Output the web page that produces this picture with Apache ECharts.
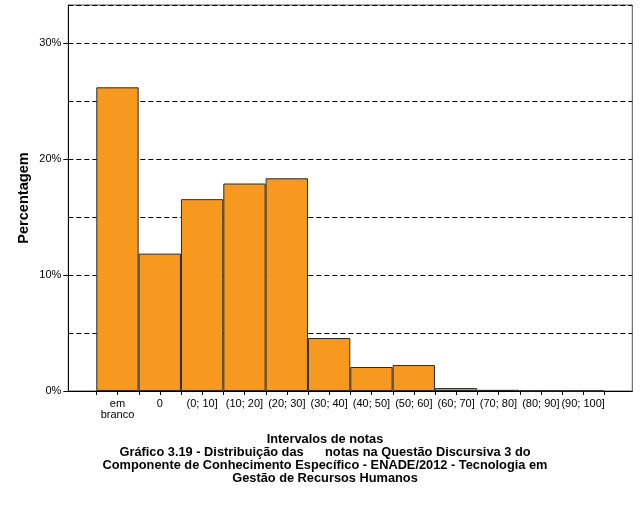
<!DOCTYPE html>
<html><head><meta charset="utf-8">
<script src="https://cdn.jsdelivr.net/npm/echarts@6/dist/echarts.min.js"></script>
<style>html,body{margin:0;padding:0;background:#fff}#c{width:640px;height:505px}</style>
</head><body><div id="c"></div>
<script>
const categories = ['em\nbranco','0','(0; 10]','(10; 20]','(20; 30]','(30; 40]','(40; 50]','(50; 60]','(60; 70]','(70; 80]','(80; 90]','(90; 100]'];
const percentages = [26.2, 11.85, 16.55, 17.9, 18.35, 4.57, 2.07, 2.24, 0.25, 0.1, 0.03, 0.02];
const yLabelValues = [0, 10, 20, 30];
const yMax = 33.3;
const xTitle = 'Intervalos de notas';
const yTitle = 'Percentagem';
const caption = 'Gráfico 3.19 - Distribuição das      notas na Questão Discursiva 3 do\nComponente de Conhecimento Específico - ENADE/2012 - Tecnologia em\nGestão de Recursos Humanos';

const FONT = '"Liberation Sans", Arial, sans-serif';
const chart = echarts.init(document.getElementById('c'), null, {renderer: 'canvas'});
const n = categories.length;
chart.setOption({
  animation: false,
  backgroundColor: '#fff',
  title: {
    text: xTitle + '\n' + caption,
    left: '50%', top: 428,
    textAlign: 'center',
    textStyle: {fontFamily: FONT, fontWeight: 'bold', fontSize: 12.8, lineHeight: 13.1, color: '#000'}
  },
  grid: [
    {left: 68.3, right: 7.7, top: 5, bottom: 114, show: true, borderColor: '#555', borderWidth: 1, backgroundColor: 'transparent'},
    {left: 96.3, right: 35.7, top: 5, bottom: 114}
  ],
  xAxis: [
    {type: 'value', gridIndex: 0, min: 0, max: 1,
     axisLine: {show: true, onZero: false, lineStyle: {color: '#000', width: 1}},
     axisTick: {show: false}, axisLabel: {show: false}, splitLine: {show: false}},
    {type: 'category', gridIndex: 1, position: 'bottom', data: categories, axisLine: {show: false, onZero: false}, axisTick: {show: false},
     axisLabel: {interval: 0, margin: 7, color: '#000', fontFamily: FONT, fontSize: 11, lineHeight: 11}}
  ],
  yAxis: [
    {type: 'value', gridIndex: 0, min: 0, max: yMax,
     axisLine: {show: true, onZero: false, lineStyle: {color: '#000'}},
     axisTick: {show: true, length: 5, customValues: yLabelValues, lineStyle: {color: '#000'}},
     axisLabel: {customValues: yLabelValues, formatter: '{value}%', margin: 7, color: '#000', fontFamily: FONT, fontSize: 11},
     splitLine: {show: false},
     name: yTitle, nameLocation: 'middle', nameGap: 37, nameMoveOverlap: false,
     nameTextStyle: {fontFamily: FONT, fontWeight: 'bold', fontSize: 14.6, color: '#000'}},
    {type: 'value', gridIndex: 0, min: 0, max: yMax, interval: 5,
     axisLine: {show: false, onZero: false}, axisTick: {show: false}, axisLabel: {show: false},
     splitLine: {show: true, lineStyle: {color: '#000', type: [5, 3], width: 1}}},
    {type: 'value', gridIndex: 1, min: 0, max: yMax, show: false}
  ],
  series: [{
    type: 'bar', xAxisIndex: 1, yAxisIndex: 2, data: percentages,
    barCategoryGap: 0, barWidth: '100%',
    itemStyle: {color: '#F7991E', borderColor: '#2a2a2a', borderWidth: 1}
  }, {
    // axis tick marks at every bar edge and bar centre, placed through the category scale
    type: 'custom', xAxisIndex: 1, yAxisIndex: 2, clip: false, z: 10, silent: true,
    data: categories.map((c, i) => [i, 0]),
    encode: {x: 0, y: 1},
    renderItem: function (params, api) {
      const idx = api.value(0);
      const c = api.coord([idx, 0]);
      const w = api.size([1, 0])[0];
      const xs = [c[0] - w / 2, c[0]];
      if (idx === n - 1) xs.push(c[0] + w / 2);
      return {
        type: 'group',
        children: xs.map(x => ({
          type: 'line',
          shape: {x1: Math.round(x) + 0.5, y1: c[1], x2: Math.round(x) + 0.5, y2: c[1] + 4},
          style: {stroke: '#000', lineWidth: 1}
        }))
      };
    }
  }]
});
</script></body></html>
